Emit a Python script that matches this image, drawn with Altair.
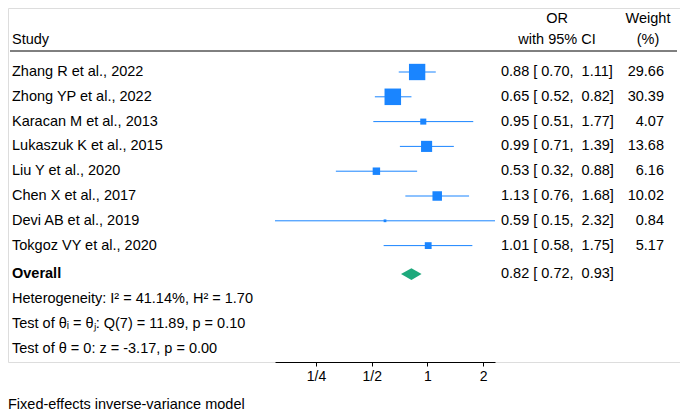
import altair as alt
import pandas as pd

# ---------------- data ----------------
studies = [
    "Zhang R et al., 2022",
    "Zhong YP et al., 2022",
    "Karacan M et al., 2013",
    "Lukaszuk K et al., 2015",
    "Liu Y et al., 2020",
    "Chen X et al., 2017",
    "Devi AB et al., 2019",
    "Tokgoz VY et al., 2020",
]
or_vals = [0.88, 0.65, 0.95, 0.99, 0.53, 1.13, 0.59, 1.01]
ci_lo = [0.70, 0.52, 0.51, 0.71, 0.32, 0.76, 0.15, 0.58]
ci_hi = [1.11, 0.82, 1.77, 1.39, 0.88, 1.68, 2.32, 1.75]
weights = [29.66, 30.39, 4.07, 13.68, 6.16, 10.02, 0.84, 5.17]

overall_or = 0.82
overall_lo = 0.72
overall_hi = 0.93

stats_lines = [
    "Heterogeneity: I\u00b2 = 41.14%, H\u00b2 = 1.70",
    "Test of \u03b8\u1d62 = \u03b8\u2c7c: Q(7) = 11.89, p = 0.10",
    "Test of \u03b8 = 0: z = -3.17, p = 0.00",
]

tick_values = [0.25, 0.5, 1, 2]
tick_labels = ["1/4", "1/2", "1", "2"]

footnote = "Fixed-effects inverse-variance model"

# ---------------- style ----------------
FONT = "Liberation Sans"
FS = 14.5
BLUE = "#1a85ff"
GREEN = "#1ea97c"
NB = "\u00a0"

def ci_text(o, lo, hi):
    return f"{o:.2f} [{NB}{lo:.2f},{NB*2}{hi:.2f}]"

n = len(studies)
overall_row = n + 0.15
study_df = pd.DataFrame({
    "study": studies,
    "or": or_vals,
    "lo": ci_lo,
    "hi": ci_hi,
    "weight": weights,
    "row": list(range(n)),
})
study_df["or_text"] = [ci_text(o, l, h) for o, l, h in zip(or_vals, ci_lo, ci_hi)]
study_df["w_text"] = [f"{w:.2f}" for w in weights]

half_h = 0.24
diamond_df = pd.DataFrame({
    "x": [overall_lo, overall_or, overall_hi],
    "y": [overall_row, overall_row - half_h, overall_row],
    "y2": [overall_row, overall_row + half_h, overall_row],
})
overall_df = pd.DataFrame({
    "label": ["Overall"],
    "or_text": [ci_text(overall_or, overall_lo, overall_hi)],
    "row": [overall_row],
})
stats_df = pd.DataFrame({
    "text": stats_lines,
    "row": [overall_row + 1 + i for i in range(len(stats_lines))],
})

row_px = 24.8
y_top = 64
y_max = overall_row + len(stats_lines)
yscale = alt.Scale(domain=[0, y_max], range=[y_top, y_top + y_max * row_px], nice=False, zero=False)
xscale = alt.Scale(type="log", base=2, domain=[0.15, 2.32], range=[267, 487], nice=False)

label_expr = " : ".join(
    f"datum.value == {v} ? '{l}'" for v, l in zip(tick_values[:-1], tick_labels[:-1])
) + f" : '{tick_labels[-1]}'"

xaxis = alt.Axis(
    values=tick_values, labelExpr=label_expr, tickSize=4, tickColor="black",
    domainColor="black", domainWidth=1, tickWidth=1, grid=False, title=None,
    labelFont=FONT, labelFontSize=14, labelColor="black", labelPadding=3,
    labelFlush=False,
)

def X(field):
    return alt.X(f"{field}:Q", scale=xscale, axis=xaxis)

def Y(field):
    return alt.Y(f"{field}:Q", scale=yscale, axis=None)

base = alt.Chart(study_df)

ci = base.mark_rule(color=BLUE, strokeWidth=1).encode(
    x=X("lo"), x2="hi", y=Y("row")
)
squares = base.mark_square(color=BLUE, opacity=1, filled=True).encode(
    x=X("or"), y=Y("row"),
    size=alt.Size("weight:Q", scale=alt.Scale(domain=[0, 100], range=[0, 900]), legend=None),
)
diamond = alt.Chart(diamond_df).mark_area(color=GREEN, opacity=1).encode(
    x=X("x"), y=Y("y"), y2="y2"
)

txt = dict(font=FONT, fontSize=FS, color="black", baseline="middle")

study_text = base.mark_text(align="left", **txt).encode(
    x=alt.value(4), y=Y("row"), text="study"
)
or_text = base.mark_text(align="left", **txt).encode(
    x=alt.value(493), y=Y("row"), text="or_text"
)
w_text = base.mark_text(align="right", **txt).encode(
    x=alt.value(656), y=Y("row"), text="w_text"
)
overall_label = alt.Chart(overall_df).mark_text(align="left", fontWeight="bold", **txt).encode(
    x=alt.value(4), y=Y("row"), text="label"
)
overall_or_text = alt.Chart(overall_df).mark_text(align="left", **txt).encode(
    x=alt.value(493), y=Y("row"), text="or_text"
)
stats_text = alt.Chart(stats_df).mark_text(align="left", **txt).encode(
    x=alt.value(4), y=Y("row"), text="text"
)

header_df = pd.DataFrame({
    "text": ["Study", "OR", "with 95% CI", "Weight", "(%)"],
})
h_study = alt.Chart(header_df).transform_filter(alt.datum.text == "Study").mark_text(align="left", **txt).encode(
    x=alt.value(4), y=alt.value(32), text="text"
)
h_or1 = alt.Chart(header_df).transform_filter(alt.datum.text == "OR").mark_text(align="center", **txt).encode(
    x=alt.value(549), y=alt.value(11), text="text"
)
h_or2 = alt.Chart(header_df).transform_filter(alt.datum.text == "with 95% CI").mark_text(align="center", **txt).encode(
    x=alt.value(549), y=alt.value(32), text="text"
)
h_w1 = alt.Chart(header_df).transform_filter(alt.datum.text == "Weight").mark_text(align="center", **txt).encode(
    x=alt.value(640), y=alt.value(11), text="text"
)
h_w2 = alt.Chart(header_df).transform_filter(alt.datum.text == "(%)").mark_text(align="center", **txt).encode(
    x=alt.value(640), y=alt.value(32), text="text"
)
header_line = alt.Chart(header_df).transform_filter(alt.datum.text == "Study").mark_rule(color="black", strokeWidth=1).encode(
    x=alt.value(2), x2=alt.value(669), y=alt.value(43)
)
foot_df = pd.DataFrame({"text": [footnote]})
foot = alt.Chart(foot_df).mark_text(align="left", **txt).encode(
    x=alt.value(0), y=alt.value(397), text="text"
)

chart = alt.layer(
    ci, squares, diamond,
    study_text, or_text, w_text, overall_label, overall_or_text, stats_text,
    h_study, h_or1, h_or2, h_w1, h_w2, header_line, foot,
).properties(
    width=672, height=354,
    autosize=alt.AutoSizeParams(type="none"),
    padding={"left": 0, "right": 0, "top": 0, "bottom": 52},
).configure_view(stroke=None).configure(background="white")

chart.save("out.html", embed_options={"renderer": "svg", "actions": False})
